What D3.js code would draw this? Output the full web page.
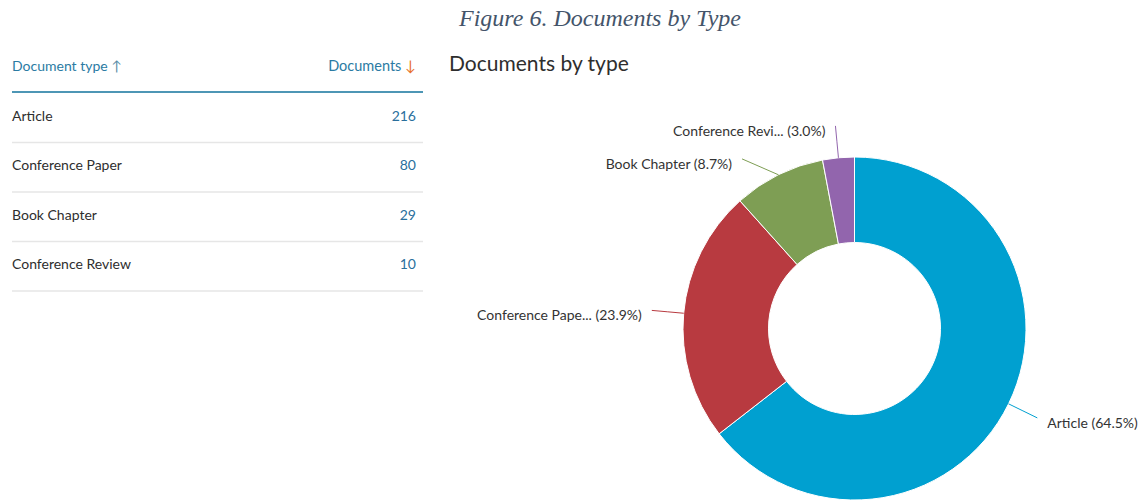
<!DOCTYPE html>
<html><head><meta charset="utf-8">
<script src="https://cdn.jsdelivr.net/npm/d3@7"></script>
<style>
html,body{margin:0;padding:0;background:#fff;}
svg{display:block;}
</style></head>
<body>
<svg id="c" width="1144" height="502"></svg>
<script>
const categories = ["Article", "Conference Paper", "Book Chapter", "Conference Review"];
const values = [216, 80, 29, 10];
const shortLabels = ["Article", "Conference Pape...", "Book Chapter", "Conference Revi..."];
const colors = ["#00a0d0", "#b83a40", "#7e9e54", "#9265ad"];

const svg = d3.select("#c");
const font = "Lato, 'Open Sans', sans-serif";

// Caption
svg.append("text").attr("x", 600).attr("y", 26).attr("text-anchor", "middle")
  .attr("font-family", "'Liberation Serif', serif").attr("font-style", "italic")
  .attr("font-size", 24).attr("fill", "#44546a").text("Figure 6. Documents by Type");

// Table
const tx0 = 12, tx1 = 423, valX = 416;
const head = svg.append("g");
const h1 = head.append("text").attr("x", tx0).attr("y", 71).attr("font-family", font)
  .attr("font-size", 14).attr("fill", "#2b7ba3");
h1.append("tspan").text("Document type ");
h1.append("tspan").attr("fill", "#5a8ea8").text("↑");
const h2 = head.append("text").attr("x", valX).attr("y", 71).attr("text-anchor", "end")
  .attr("font-family", font).attr("font-size", 14.5).attr("fill", "#2b7ba3");
h2.append("tspan").text("Documents ");
h2.append("tspan").attr("fill", "#e8702a").text("↓");
head.append("line").attr("x1", tx0).attr("x2", tx1).attr("y1", 92).attr("y2", 92)
  .attr("stroke", "#4d96b5").attr("stroke-width", 2);

const rowY = d3.scaleBand().domain(categories).range([93, 291]);
const rows = svg.selectAll(".row").data(categories).join("g").attr("class", "row");
rows.append("text").attr("x", tx0).attr("y", d => rowY(d) + rowY.bandwidth() / 2 + 3)
  .attr("font-family", font).attr("font-size", 14).attr("fill", "#2e2e2e").text(d => d);
rows.append("text").attr("x", valX).attr("y", d => rowY(d) + rowY.bandwidth() / 2 + 3)
  .attr("text-anchor", "end").attr("font-family", font).attr("font-size", 14)
  .attr("fill", "#2a6f9c").text((d, i) => values[i]);
rows.append("line").attr("x1", tx0).attr("x2", tx1)
  .attr("y1", d => rowY(d) + rowY.bandwidth()).attr("y2", d => rowY(d) + rowY.bandwidth())
  .attr("stroke", "#e6e6e6").attr("stroke-width", 1.5);

// Chart title
svg.append("text").attr("x", 449).attr("y", 71).attr("font-family", font)
  .attr("font-size", 21).attr("fill", "#2e2e2e").text("Documents by type");

// Donut
const cx = 854.5, cy = 328.5, R = 171.5, r = 86;
const total = d3.sum(values);
const data = categories.map((c, i) => ({ c, v: values[i], s: shortLabels[i], col: colors[i] }));
const pie = d3.pie().value(d => d.v).sort(null);
const arcs = pie(data);
const arc = d3.arc().innerRadius(r).outerRadius(R);
const g = svg.append("g").attr("transform", `translate(${cx},${cy})`);
g.selectAll("path").data(arcs).join("path").attr("d", arc)
  .attr("fill", d => d.data.col).attr("stroke", "#fff").attr("stroke-width", 1);

// Labels (Highcharts-like placement)
const dist = 32, RL = R + dist;
const labels = arcs.map(a => {
  const m = (a.startAngle + a.endAngle) / 2;
  return { a, m, side: Math.sin(m) >= 0 ? 1 : -1,
    ex: Math.sin(m) * R, ey: -Math.cos(m) * R,
    y: -Math.cos(m) * RL };
});
[1, -1].forEach(side => {
  const L = labels.filter(l => l.side === side).sort((p, q) => p.y - q.y);
  for (let i = 1; i < L.length; i++) {
    if (L[i].y - L[i - 1].y < 33) L[i].y = L[i - 1].y + 33;
  }
});
labels.forEach(l => {
  const dy = Math.max(-RL, Math.min(RL, l.y));
  l.x = l.side * Math.sqrt(RL * RL - dy * dy);
});
g.selectAll(".conn").data(labels).join("path").attr("class", "conn")
  .attr("d", l => `M${l.x},${l.y}Q${(l.x + l.ex) / 2},${(l.y + l.ey) / 2} ${l.ex},${l.ey}`)
  .attr("fill", "none").attr("stroke", l => l.a.data.col).attr("stroke-width", 1);
g.selectAll(".lbl").data(labels).join("text").attr("class", "lbl")
  .attr("x", l => l.x + l.side * 10).attr("y", l => l.y + 10)
  .attr("text-anchor", l => l.side > 0 ? "start" : "end")
  .attr("font-family", font).attr("font-size", 14).attr("fill", "#333")
  .text(l => `${l.a.data.s} (${(l.a.data.v / total * 100).toFixed(1)}%)`);
</script>
</body></html>
